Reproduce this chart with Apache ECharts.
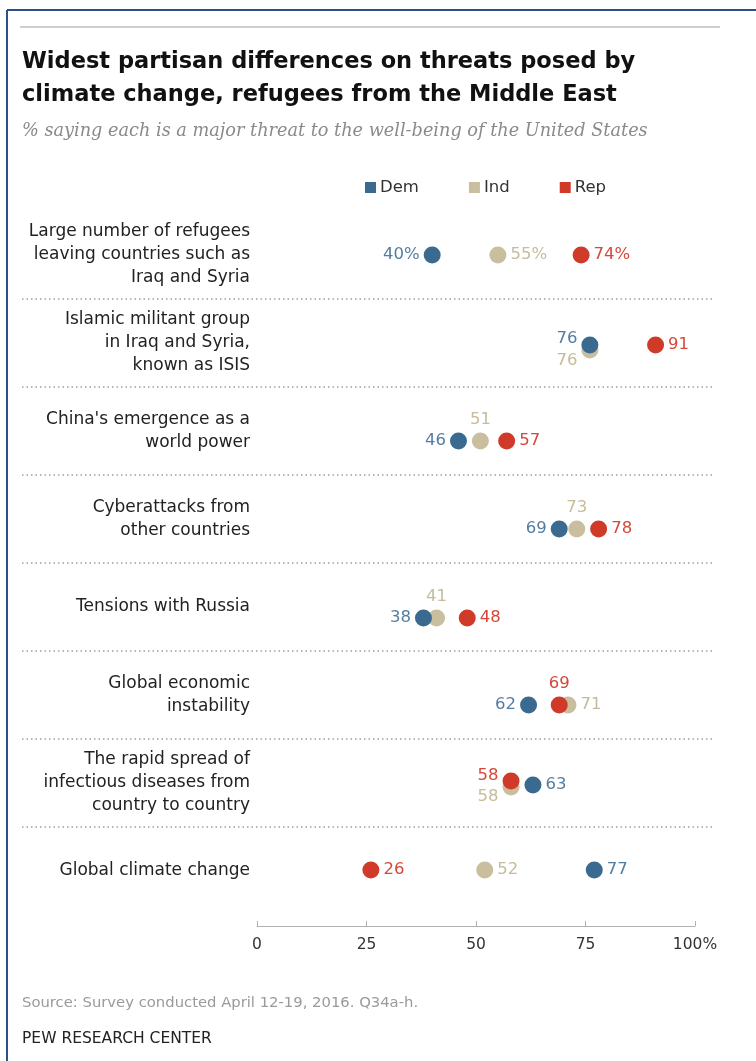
<!DOCTYPE html>
<html><head><meta charset="utf-8">
<script src="https://cdn.jsdelivr.net/npm/echarts@6/dist/echarts.min.js"></script>
<style>html,body{margin:0;padding:0;background:#fff}#c{width:756px;height:1061px}</style>
</head><body><div id="c"></div>
<script>
// ---- data ----
const categories = [
  'Large number of refugees\nleaving countries such as\nIraq and Syria',
  'Islamic militant group\nin Iraq and Syria,\nknown as ISIS',
  "China's emergence as a\nworld power",
  'Cyberattacks from\nother countries',
  'Tensions with Russia',
  'Global economic\ninstability',
  'The rapid spread of\ninfectious diseases from\ncountry to country',
  'Global climate change'
];
const dem = [40, 76, 46, 69, 38, 62, 63, 77];
const ind = [55, 76, 51, 73, 41, 71, 58, 52];
const rep = [74, 91, 57, 78, 48, 69, 58, 26];
const seriesNames = ['Dem', 'Ind', 'Rep'];
const xTicks = [0, 25, 50, 75, 100];
const xTickLabels = ['0', '25', '50', '75', '100%'];
const titleText = 'Widest partisan differences on threats posed by\nclimate change, refugees from the Middle East';
const subtitleText = '% saying each is a major threat to the well-being of the United States';
const sourceText = 'Source: Survey conducted April 12-19, 2016. Q34a-h.';
const creditText = 'PEW RESEARCH CENTER';

// ---- styling (positions of dots/labels relative to their row) ----
const demShift = [0, 2, 10, 10, 11, 10, 2, -1];
const indShift = [0, 7, 10, 10, 11, 10, 4, -1];
const repShift = [0, 2, 10, 10, 11, 10, -2, -1];
const demLab = [['left',0],['left',-6],['left',0],['left',0],['left',0],['left',0],['right',0],['right',0]];
const indLab = [['right',0],['left',11],['top',0],['top',0],['top',0],['right',0],['left',10],['right',0]];
const repLab = [['right',0],['right',0],['right',0],['right',0],['right',0],['top',0],['left',-5],['right',0]];

const COL = {
  Dem: {dot: '#3a6a90', text: '#547ea1'},
  Ind: {dot: '#c9be9e', text: '#c6bc9a'},
  Rep: {dot: '#cf3a29', text: '#d5483a'}
};
const FONT = '"DejaVu Sans", Roboto, sans-serif';

function build(name, vals, shifts, labs) {
  return vals.map((v, i) => ({
    value: [v, categories[i]],
    symbolOffset: [0, shifts[i]],
    label: {position: labs[i][0], offset: [0, labs[i][1]]}
  }));
}
function mkSeries(name, vals, shifts, labs, z) {
  return {
    name: name, type: 'scatter', xAxisIndex: 1, yAxisIndex: 1,
    symbol: 'circle', symbolSize: 17, z: z,
    itemStyle: {color: COL[name].dot, opacity: 1},
    label: {
      show: true, distance: 4, fontFamily: FONT, fontSize: 16.5,
      color: COL[name].text,
      formatter: p => p.value[0] + (p.dataIndex === 0 ? '%' : '')
    },
    emphasis: {disabled: true},
    data: build(name, vals, shifts, labs)
  };
}

const chart = echarts.init(document.getElementById('c'), null, {renderer: 'canvas'});
chart.setOption({
  animation: false,
  backgroundColor: '#fff',
  title: [
    {text: titleText, left: 22, top: 46, padding: 0,
     textStyle: {fontFamily: FONT, fontWeight: 'bold', fontSize: 22.5, lineHeight: 33, color: '#111'}},
    {text: subtitleText, left: 22, top: 122, padding: 0,
     textStyle: {fontFamily: '"DejaVu Serif", "Liberation Serif", serif', fontStyle: 'italic', fontWeight: 'normal', fontSize: 17.7, color: '#8a8a8a'}},
    {text: sourceText, left: 22, top: 996, padding: 0,
     textStyle: {fontFamily: FONT, fontWeight: 'normal', fontSize: 14.8, color: '#9a9a9a'}},
    {text: creditText, left: 22, top: 1031, padding: 0,
     textStyle: {fontFamily: FONT, fontWeight: 'normal', fontSize: 15.5, color: '#222'}}
  ],
  legend: {
    data: seriesNames, left: 365, top: 179, padding: 0, icon: 'rect', itemWidth: 11, itemHeight: 11,
    itemGap: 50, selectedMode: false,
    textStyle: {fontFamily: FONT, fontSize: 16.5, color: '#333', padding: [0,0,0,-1]}
  },
  graphic: [
    {type: 'line', shape: {x1: 7, y1: 10, x2: 756, y2: 10}, style: {stroke: '#2f4f8a', lineWidth: 2}},
    {type: 'line', shape: {x1: 7, y1: 10, x2: 7, y2: 1061}, style: {stroke: '#2f4f8a', lineWidth: 2}},
    {type: 'line', shape: {x1: 20, y1: 27, x2: 720, y2: 27}, style: {stroke: '#cfcfcf', lineWidth: 2}}
  ],
  grid: [
    {left: 22, right: 44, top: 211, height: 704},
    {left: 257, right: 61, top: 211, height: 704}
  ],
  xAxis: [
    {gridIndex: 0, type: 'value', min: 0, max: 100, show: false},
    {gridIndex: 1, type: 'value', min: 0, max: 100, interval: 25, offset: 11,
     axisLine: {show: true, lineStyle: {color: '#b0b0b0', width: 1}},
     axisTick: {show: true, inside: true, length: 5, lineStyle: {color: '#b0b0b0'}},
     splitLine: {show: false},
     axisLabel: {margin: 11, fontFamily: FONT, fontSize: 15.5, color: '#333',
                 formatter: v => xTickLabels[xTicks.indexOf(v)]}}
  ],
  yAxis: [
    {gridIndex: 0, type: 'category', data: categories, inverse: true,
     axisLine: {show: false}, axisTick: {show: false}, axisLabel: {show: false},
     splitLine: {show: true, showMinLine: false, showMaxLine: false,
                 lineStyle: {color: '#a0a0a0', width: 1.5, type: [1.5, 3]}}},
    {gridIndex: 1, type: 'category', data: categories, inverse: true,
     axisLine: {show: false}, axisTick: {show: false}, splitLine: {show: false},
     axisLabel: {margin: 7, fontFamily: FONT, fontSize: 17, lineHeight: 23, color: '#222', align: 'right'}}
  ],
  series: [
    mkSeries('Ind', ind, indShift, indLab, 2),
    mkSeries('Dem', dem, demShift, demLab, 3),
    mkSeries('Rep', rep, repShift, repLab, 4)
  ]
});
</script></body></html>
